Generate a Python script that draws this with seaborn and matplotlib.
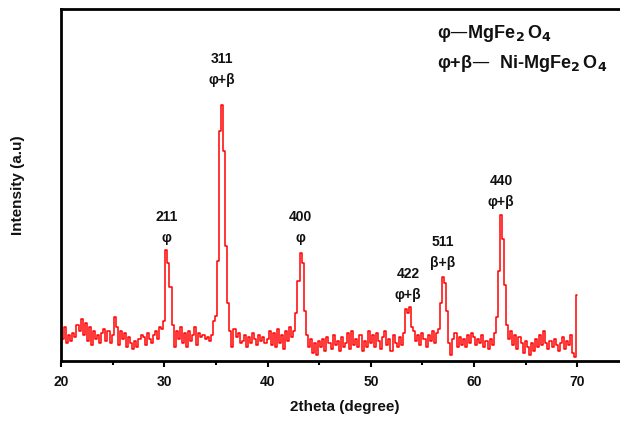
import numpy as np
import pandas as pd
import seaborn as sns
import matplotlib.pyplot as plt

# XRD pattern, 0.2 degree step from 20 to 70
two_theta = np.round(np.arange(20.0, 70.01, 0.2), 1)
intensity = [
    30, 22, 34, 18, 26, 20, 28, 24, 36, 30,
    42, 26, 38, 20, 34, 16, 30, 22, 26, 18,
    28, 32, 20, 30, 18, 26, 44, 34, 16, 30,
    22, 28, 14, 24, 18, 12, 20, 14, 22, 26,
    24, 16, 28, 22, 18, 26, 30, 22, 34, 32,
    # 30 - 39.8
    40, 111, 98, 74, 36, 14, 30, 22, 34, 18,
    28, 14, 30, 20, 26, 34, 16, 28, 24, 26,
    22, 24, 20, 26, 40, 45, 100, 230, 256, 210,
    115, 58, 30, 14, 32, 24, 28, 18, 20, 26,
    14, 24, 18, 28, 22, 16, 26, 20, 24, 18,
    # 40 - 49.8
    22, 30, 16, 28, 14, 32, 18, 26, 12, 30,
    20, 34, 24, 30, 48, 80, 108, 98, 50, 26,
    14, 22, 8, 18, 6, 20, 14, 22, 10, 24,
    18, 12, 26, 16, 20, 10, 24, 14, 18, 28,
    12, 30, 16, 22, 14, 26, 10, 20, 14, 30,
    # 50 - 59.8
    18, 26, 14, 28, 20, 12, 24, 30, 16, 22,
    10, 26, 18, 14, 24, 16, 28, 52, 48, 54,
    34, 30, 20, 26, 16, 28, 22, 14, 26, 20,
    30, 18, 28, 32, 58, 84, 78, 50, 18, 6,
    22, 28, 14, 24, 16, 22, 14, 26, 18, 28,
    # 60 - 70
    24, 16, 22, 18, 26, 14, 20, 12, 22, 16,
    28, 44, 90, 146, 122, 76, 36, 22, 30, 16,
    26, 12, 24, 18, 8, 20, 14, 6, 18, 10,
    22, 14, 26, 16, 30, 18, 12, 20, 14, 22,
    16, 10, 18, 24, 12, 20, 16, 26, 8, 4,
    66,
]

peak_pos = [30.2, 35.6, 43.2, 53.6, 57.0, 62.6]
peak_top = [111, 256, 111, 54, 84, 146]
hkl = ["211", "311", "400", "422", "511", "440"]
phase = ["φ", "φ+β", "φ", "φ+β", "β+β", "φ+β"]
label_gap = [12, 25, 12, 12, 14, 13]  # px between peak top and phase label

legend_lines = [r"φ—MgFe$_\mathbf{2}\,$O$_\mathbf{4}$",
                r"φ+β—  Ni-MgFe$_\mathbf{2}\,$O$_\mathbf{4}$"]

df = pd.DataFrame({"2theta": two_theta, "I": intensity})

sns.set_style("ticks")
plt.rcParams["font.family"] = ["Liberation Sans", "DejaVu Sans"]
plt.rcParams["font.weight"] = "bold"
plt.rcParams["mathtext.default"] = "bf"
plt.rcParams["text.color"] = "#111111"
plt.rcParams["axes.labelcolor"] = "#111111"
plt.rcParams["xtick.color"] = "black"
plt.rcParams["xtick.labelcolor"] = "#111111"

fig = plt.figure(figsize=(6.2, 4.23), dpi=100)
ax = fig.add_axes([61 / 620, 62 / 423, 568 / 620, 352 / 423])

sns.lineplot(data=df, x="2theta", y="I", color="red", lw=1.1,
             drawstyle="steps-mid", ax=ax)

ax.set_xlim(20, 75)
ax.set_ylim(0, 352)
ax.set_xticks(range(20, 71, 10))
ax.set_xticks(range(25, 76, 10), minor=True)
ax.set_yticks([])
ax.tick_params(axis="x", which="major", direction="out", length=4, width=1.5,
               labelsize=10, pad=6)
ax.tick_params(axis="x", which="minor", direction="out", length=3, width=1.5)
for s in ax.spines.values():
    s.set_linewidth(2)
    s.set_color("black")

ax.set_xlabel("2theta (degree)", fontsize=11, fontweight="bold", labelpad=8)
ax.set_ylabel("Intensity (a.u)", fontsize=11, fontweight="bold", labelpad=26)

for x, top, h, p, g in zip(peak_pos, peak_top, hkl, phase, label_gap):
    ax.annotate(p, (x, top), xytext=(0, g * 0.72), textcoords="offset points",
                ha="center", va="center", fontsize=10, fontweight="bold")
    ax.annotate(h, (x, top), xytext=(0, (g + 18) * 0.72 + 2),
                textcoords="offset points", ha="center", va="center",
                fontsize=10, fontweight="bold")

for i, t in enumerate(legend_lines):
    ax.text(56.4, 328 - 30 * i, t, ha="left", va="center", fontsize=13,
            fontweight="bold")

fig.savefig("out.png", dpi=100)
